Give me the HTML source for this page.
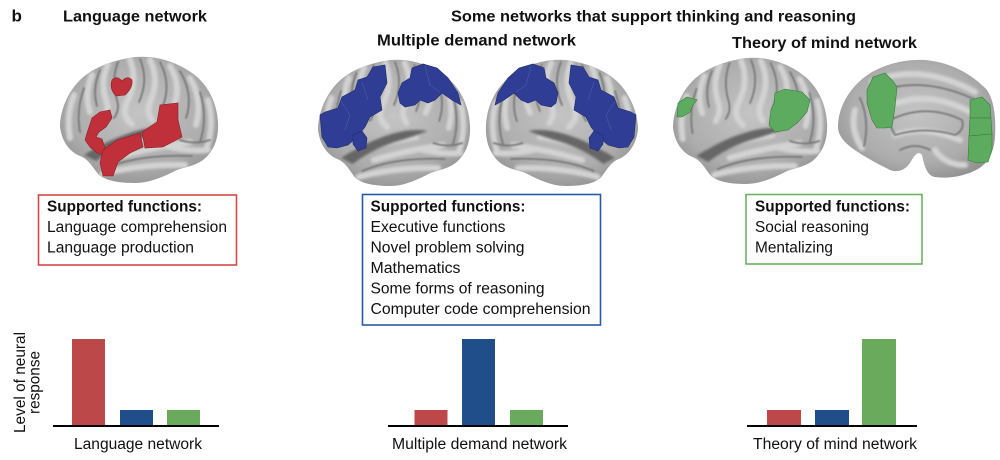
<!DOCTYPE html>
<html><head><meta charset="utf-8"><style>
html,body{margin:0;padding:0;background:#fff;width:1000px;height:460px;overflow:hidden}
svg{display:block}
text{font-family:"Liberation Sans",Arial,sans-serif;fill:#111}
.h{font-weight:bold;font-size:16px}
.t{font-size:15.5px}
.tb{font-size:15.5px;font-weight:bold}
</style></head><body>
<svg width="1000" height="460" viewBox="0 0 1000 460" xmlns="http://www.w3.org/2000/svg">
<defs>
  <radialGradient id="bg" cx="50%" cy="45%" r="60%">
    <stop offset="0" stop-color="#c4c4c4"/>
    <stop offset="0.7" stop-color="#adadad"/>
    <stop offset="1" stop-color="#929292"/>
  </radialGradient>
  <filter id="bl" x="-10%" y="-10%" width="120%" height="120%"><feGaussianBlur stdDeviation="1.3"/></filter>
  <filter id="bs" x="-10%" y="-10%" width="120%" height="120%"><feGaussianBlur stdDeviation="0.7"/></filter>
  <clipPath id="latclip"><path d="M60,127 C60,110 68,92 80,80 C92,68 112,60 135,57 C158,55 180,63 196,76 C210,88 217,105 218,122 C219,140 213,152 203,160 C195,166 185,167 177,170 C165,176 150,183 135,183 C120,183 105,181 98,174 C92,166 88,159 80,156 C70,152 62,142 60,127 Z"/></clipPath>
  <clipPath id="medclip"><path d="M838,127 C838,105 852,84 872,72 C890,62 910,59 925,60 C950,62 972,74 987,90 C995,102 996,120 995,137 C994,152 988,163 978,169 C965,176 950,179 935,177 C927,176 924,165 922,155 C918,150 914,156 910,163 C905,170 898,173 890,170 C880,165 866,158 852,148 C844,142 838,135 838,127 Z"/></clipPath>
  <g id="lat">
    <path d="M60,127 C60,110 68,92 80,80 C92,68 112,60 135,57 C158,55 180,63 196,76 C210,88 217,105 218,122 C219,140 213,152 203,160 C195,166 185,167 177,170 C165,176 150,183 135,183 C120,183 105,181 98,174 C92,166 88,159 80,156 C70,152 62,142 60,127 Z" fill="url(#bg)"/>
    <g clip-path="url(#latclip)">
      <g fill="none" stroke="#d3d3d3" stroke-width="6" stroke-linecap="round" filter="url(#bl)">
        <path d="M74,95 Q66,115 70,138"/>
        <path d="M92,75 Q84,95 90,112"/>
        <path d="M108,64 Q100,82 106,100 Q110,110 104,120"/>
        <path d="M130,60 Q138,80 128,100 Q120,115 132,124"/>
        <path d="M150,60 Q160,80 150,102 Q146,112 152,120"/>
        <path d="M170,66 Q183,88 172,110"/>
        <path d="M190,78 Q203,100 196,125"/>
        <path d="M208,100 Q215,125 206,150"/>
        <path d="M102,174 Q140,164 185,165"/>
        <path d="M98,150 Q130,138 162,134"/>
        <path d="M165,146 Q190,152 208,150"/>
        <path d="M118,157 Q150,148 190,142"/>
      </g>
      <g fill="none" stroke="#777" stroke-width="1.8" stroke-linecap="round" filter="url(#bs)">
        <path d="M84,88 Q76,110 80,132"/>
        <path d="M100,70 Q92,88 97,106"/>
        <path d="M118,62 Q111,80 117,100 Q120,110 114,118"/>
        <path d="M140,59 Q149,80 139,102"/>
        <path d="M160,62 Q172,85 162,108"/>
        <path d="M180,71 Q194,95 186,118"/>
        <path d="M200,92 Q208,118 200,142"/>
        <path d="M106,168 Q140,154 192,156"/>
        <path d="M180,140 Q195,145 210,140"/>
      </g>
      <path d="M84,155 Q110,138 140,130 Q160,125 174,128 Q158,134 140,139 Q115,147 96,161 Z" fill="#666" filter="url(#bl)"/>
    </g>
  </g>
  <g id="mdL">
    <use href="#lat" transform="translate(318,60) scale(0.962,1.0) translate(-60,-57)"/>
    <g fill="#2f3e94" stroke="#1f2a6a" stroke-width="0.6">
      <path d="M320,115 L325,112 L338,108 L342,97 L355,90 L358,80 L367,77 L373,67 L385,65 L387,83 L380,97 L382,110 L370,117 L365,127 L357,137 L348,145 L337,148 L328,147 L322,137 Z"/>
      <path d="M353,135 L362,131 L367,138 L366,148 L358,151 L353,144 Z"/>
      <path d="M398,93 L402,83 L410,78 L412,68 L423,64 L437,68 L448,78 L458,93 L461,105 L452,100 L442,93 L435,100 L428,103 L420,100 L415,105 L405,107 L400,103 Z"/>
    </g>
    <g fill="none" stroke="#5a63a8" stroke-width="0.5">
      <path d="M340,100 L350,115 L345,130"/>
      <path d="M362,82 L368,100"/>
      <path d="M425,66 L430,85 L440,92"/>
    </g>
  </g>
</defs>

<!-- Titles -->
<text x="11.5" y="21.7" style="font-weight:bold;font-size:17px">b</text>
<text class="h" x="63" y="21.5" textLength="144" lengthAdjust="spacingAndGlyphs">Language network</text>
<text class="h" x="451" y="21.5" textLength="405" lengthAdjust="spacingAndGlyphs">Some networks that support thinking and reasoning</text>
<text class="h" x="377" y="45.5" textLength="199" lengthAdjust="spacingAndGlyphs">Multiple demand network</text>
<text class="h" x="732" y="48" textLength="185" lengthAdjust="spacingAndGlyphs">Theory of mind network</text>

<!-- Language brain -->
<use href="#lat"/>
<g fill="#c0303a" stroke="#8a2025" stroke-width="0.6">
  <path d="M112,80 Q117,75 122,81 Q127,75 132,80 Q133,88 125,95 L116,96 Q109,89 112,80 Z"/>
  <path d="M88,130 L92,118 L100,112 L110,110 L112,118 L106,127 L99,132 L96,137 L102,139 L105,148 L103,155 L97,153 L90,147 L85,140 Z"/>
  <path d="M103,150 L117,140 L140,133 L143,147 L130,153 L118,162 L113,176 L103,176 L100,163 Z"/>
  <path d="M142,132 L157,122 L160,105 L178,103 L178,120 L182,137 L163,147 L145,148 Z"/>
</g>

<!-- MD brains -->
<use href="#mdL"/>
<g transform="translate(956,0) scale(-1,1)"><use href="#mdL"/></g>

<!-- ToM lateral -->
<use href="#lat" transform="translate(673,58) scale(0.975,1.0) translate(-60,-57)"/>
<g fill="#5dab5e" stroke="#3a7a3c" stroke-width="0.6">
  <path d="M677,117 L678,103 L687,97 L697,100 L693,105 L690,112 L682,117 Z"/>
  <path d="M775,93 L785,89 L802,92 L810,100 L807,112 L797,123 L788,130 L775,132 L769,125 L771,110 L774,103 Z"/>
</g>

<!-- ToM medial -->
<path d="M838,127 C838,105 852,84 872,72 C890,62 910,59 925,60 C950,62 972,74 987,90 C995,102 996,120 995,137 C994,152 988,163 978,169 C965,176 950,179 935,177 C927,176 924,165 922,155 C918,150 914,156 910,163 C905,170 898,173 890,170 C880,165 866,158 852,148 C844,142 838,135 838,127 Z" fill="url(#bg)"/>
<g clip-path="url(#medclip)">
  <g fill="none" stroke="#d3d3d3" stroke-width="6" stroke-linecap="round" filter="url(#bl)">
    <path d="M872,82 Q920,62 975,92"/>
    <path d="M885,108 Q925,88 970,112"/>
    <path d="M855,110 Q850,130 862,148"/>
    <path d="M895,135 Q925,125 960,140"/>
    <path d="M935,150 Q945,165 965,165"/>
  </g>
  <g fill="none" stroke="#777" stroke-width="1.8" stroke-linecap="round" filter="url(#bs)">
    <path d="M870,95 Q920,72 980,102"/>
    <path d="M888,121 Q925,102 962,120 Q965,130 955,135 Q925,126 895,135 Z"/>
    <path d="M860,98 Q870,120 864,146"/>
    <path d="M900,150 Q915,142 930,150"/>
  </g>
</g>
<g fill="#5dab5e" stroke="#3a7a3c" stroke-width="0.6">
  <path d="M867,90 L873,77 L885,73 L892,80 L897,87 L895,107 L892,127 L885,128 L877,128 L872,120 L867,103 Z"/>
  <path d="M970,100 L982,97 L990,105 L991,118 L970,118 Z"/>
  <path d="M970,118 L991,118 L992,134 L969,136 Z"/>
  <path d="M969,136 L992,134 L992,150 L988,162 L977,163 L968,160 Z"/>
</g>

<!-- Boxes -->
<rect x="38.5" y="195" width="198" height="70" fill="none" stroke="#d24a48" stroke-width="1.6"/>
<text class="tb" x="47" y="211.5" textLength="155" lengthAdjust="spacingAndGlyphs">Supported functions:</text>
<text class="t" x="47" y="232" textLength="180" lengthAdjust="spacingAndGlyphs">Language comprehension</text>
<text class="t" x="47" y="252.5" textLength="147" lengthAdjust="spacingAndGlyphs">Language production</text>

<rect x="362.5" y="194.5" width="238" height="130.5" fill="none" stroke="#2a5aa0" stroke-width="1.6"/>
<text class="tb" x="370.5" y="211.5" textLength="155" lengthAdjust="spacingAndGlyphs">Supported functions:</text>
<text class="t" x="370.5" y="232" textLength="135" lengthAdjust="spacingAndGlyphs">Executive functions</text>
<text class="t" x="370.5" y="252.5" textLength="154" lengthAdjust="spacingAndGlyphs">Novel problem solving</text>
<text class="t" x="370.5" y="273" textLength="90" lengthAdjust="spacingAndGlyphs">Mathematics</text>
<text class="t" x="370.5" y="293.5" textLength="174" lengthAdjust="spacingAndGlyphs">Some forms of reasoning</text>
<text class="t" x="370.5" y="314" textLength="220" lengthAdjust="spacingAndGlyphs">Computer code comprehension</text>

<rect x="746" y="194.5" width="176" height="69.5" fill="none" stroke="#6cb463" stroke-width="1.6"/>
<text class="tb" x="755" y="211.5" textLength="155" lengthAdjust="spacingAndGlyphs">Supported functions:</text>
<text class="t" x="755" y="232" textLength="114" lengthAdjust="spacingAndGlyphs">Social reasoning</text>
<text class="t" x="755" y="252.5" textLength="78" lengthAdjust="spacingAndGlyphs">Mentalizing</text>

<!-- Y label -->
<text class="t" transform="translate(25,382.5) rotate(-90)" text-anchor="middle" textLength="101" lengthAdjust="spacingAndGlyphs">Level of neural</text>
<text class="t" transform="translate(39.5,382.5) rotate(-90)" text-anchor="middle" textLength="63" lengthAdjust="spacingAndGlyphs">response</text>

<!-- Bar charts -->
<g>
  <rect x="72" y="339" width="33" height="86" fill="#bc4849"/>
  <rect x="120" y="410" width="33" height="15" fill="#1f4e8b"/>
  <rect x="167" y="410" width="33" height="15" fill="#69aa5d"/>
  <line x1="53" y1="426" x2="219" y2="426" stroke="#000" stroke-width="2"/>
  <text class="t" x="74" y="449" textLength="128" lengthAdjust="spacingAndGlyphs">Language network</text>

  <rect x="414.5" y="410" width="33" height="15" fill="#bc4849"/>
  <rect x="462" y="339" width="33" height="86" fill="#1f4e8b"/>
  <rect x="510" y="410" width="33" height="15" fill="#69aa5d"/>
  <line x1="388" y1="426" x2="568" y2="426" stroke="#000" stroke-width="2"/>
  <text class="t" x="392" y="449" textLength="175" lengthAdjust="spacingAndGlyphs">Multiple demand network</text>

  <rect x="767" y="410" width="34" height="15" fill="#bc4849"/>
  <rect x="815" y="410" width="34" height="15" fill="#1f4e8b"/>
  <rect x="862" y="339" width="34" height="86" fill="#69aa5d"/>
  <line x1="747" y1="426" x2="917" y2="426" stroke="#000" stroke-width="2"/>
  <text class="t" x="753" y="449" textLength="164" lengthAdjust="spacingAndGlyphs">Theory of mind network</text>
</g>
</svg>
</body></html>
